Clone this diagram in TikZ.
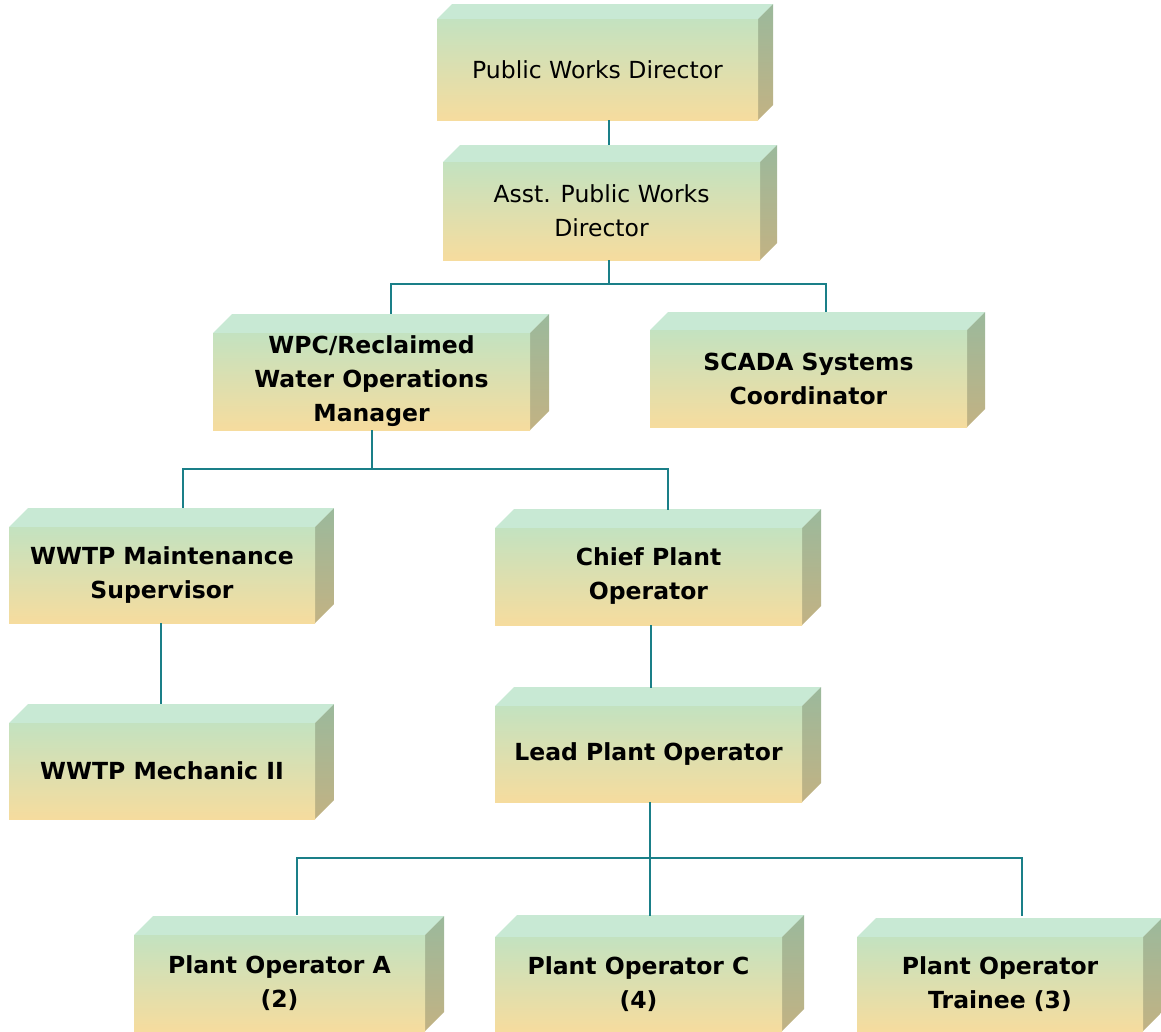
\documentclass[tikz,border=0pt]{standalone}
\usepackage{fontspec}
\setmainfont{DejaVu Sans}
\usetikzlibrary{calc}
\definecolor{topC}{HTML}{C8E9D4}
\definecolor{frontTop}{HTML}{C3E2C0}
\definecolor{frontBot}{HTML}{F6DC9E}
\definecolor{sideTop}{HTML}{9BB99C}
\definecolor{sideBot}{HTML}{C2B283}
\definecolor{connC}{HTML}{1A7F88}
\tikzset{
  front/.style={top color=frontTop, bottom color=frontBot, draw=none, align=center,
    inner sep=0pt, text=black, font=\fontsize{23.5}{34}\selectfont},
  topface/.style={fill=topC},
  sideface/.style={top color=sideTop, bottom color=sideBot},
  conn/.style={draw=connC, line width=1.6pt},
  bf/.style={font=\fontsize{23.5}{34}\selectfont\bfseries}
}
% #1 name, #2 x1, #3 y1, #4 x2, #5 y2 (front face, pixels, y down), #6 depth, #7 extra style, #8 text
\newcommand\orgbox[8]{%
  \path[topface] (#2,#3) -- ({#2+#6},{#3-#6}) -- ({#4+#6},{#3-#6}) -- (#4,#3) -- cycle;
  \path[sideface] (#4,#3) -- ({#4+#6},{#3-#6}) -- ({#4+#6},{#5-#6}) -- (#4,#5) -- cycle;
  \node[front, #7, minimum width={(#4-#2)*1pt}, minimum height={(#5-#3)*1pt}]
    (#1) at ({(#2+#4)/2},{(#3+#5)/2}) {#8};
}
\begin{document}
\begin{tikzpicture}[x=1pt,y=-1pt]
\useasboundingbox (0,0) rectangle (1161,1031);
\orgbox{pwd}{437}{19}{758}{120}{15}{}{Public Works Director}
\orgbox{apwd}{443}{162}{760}{260}{17}{}{Asst. Public Works\\Director}
\orgbox{wpc}{213}{333}{530}{430}{19}{bf}{WPC/Reclaimed\\Water Operations\\Manager}
\orgbox{scada}{650}{330}{967}{427}{18}{bf}{SCADA Systems\\Coordinator}
\orgbox{wwtpm}{9}{527}{315}{623}{19}{bf}{WWTP Maintenance\\Supervisor}
\orgbox{chief}{495}{528}{802}{625}{19}{bf}{Chief Plant\\Operator}
\orgbox{mech}{9}{723}{315}{819}{19}{bf}{WWTP Mechanic II}
\orgbox{lead}{495}{706}{802}{802}{19}{bf}{Lead Plant Operator}
\orgbox{opa}{134}{935}{425}{1031}{19}{bf}{Plant Operator A\\(2)}
\orgbox{opc}{495}{937}{782}{1031}{22}{bf}{Plant Operator C\\(4)}
\orgbox{opt}{857}{937}{1143}{1031}{19}{bf}{Plant Operator\\Trainee (3)}
% connectors
\draw[conn] ([xshift=11.5pt]pwd.south) -- ([xshift=7.5pt,yshift=17pt]apwd.north);
\coordinate (b1) at ([xshift=7.5pt,yshift=-24pt]apwd.south);
\coordinate (wpcT) at ([xshift=19.5pt,yshift=19pt]wpc.north);
\coordinate (scadaT) at ([xshift=17.5pt,yshift=18pt]scada.north);
\draw[conn] ([xshift=7.5pt]apwd.south) -- (b1);
\draw[conn] (wpcT) |- (b1) -| (scadaT);
\coordinate (b2) at ([xshift=0.5pt,yshift=-39pt]wpc.south);
\coordinate (wwtpmT) at ([xshift=21pt,yshift=19pt]wwtpm.north);
\coordinate (chiefT) at ([xshift=19.5pt,yshift=18pt]chief.north);
\draw[conn] ([xshift=0.5pt]wpc.south) -- (b2);
\draw[conn] (wwtpmT) |- (b2) -| (chiefT);
\draw[conn] ([xshift=-1pt]wwtpm.south) -- ([xshift=-1pt,yshift=19pt]mech.north);
\draw[conn] ([xshift=2.5pt]chief.south) -- ([xshift=2.5pt,yshift=18pt]lead.north);
\coordinate (b3) at ([xshift=1.5pt,yshift=-56pt]lead.south);
\coordinate (opaT) at ([xshift=17.5pt,yshift=20pt]opa.north);
\coordinate (opcT) at ([xshift=11.5pt,yshift=21pt]opc.north);
\coordinate (optT) at ([xshift=22pt,yshift=21pt]opt.north);
\draw[conn] ([xshift=1.5pt]lead.south) -- (b3);
\draw[conn] (opaT) |- (b3) -| (optT);
\draw[conn] (b3) -- (opcT);
\end{tikzpicture}
\end{document}
